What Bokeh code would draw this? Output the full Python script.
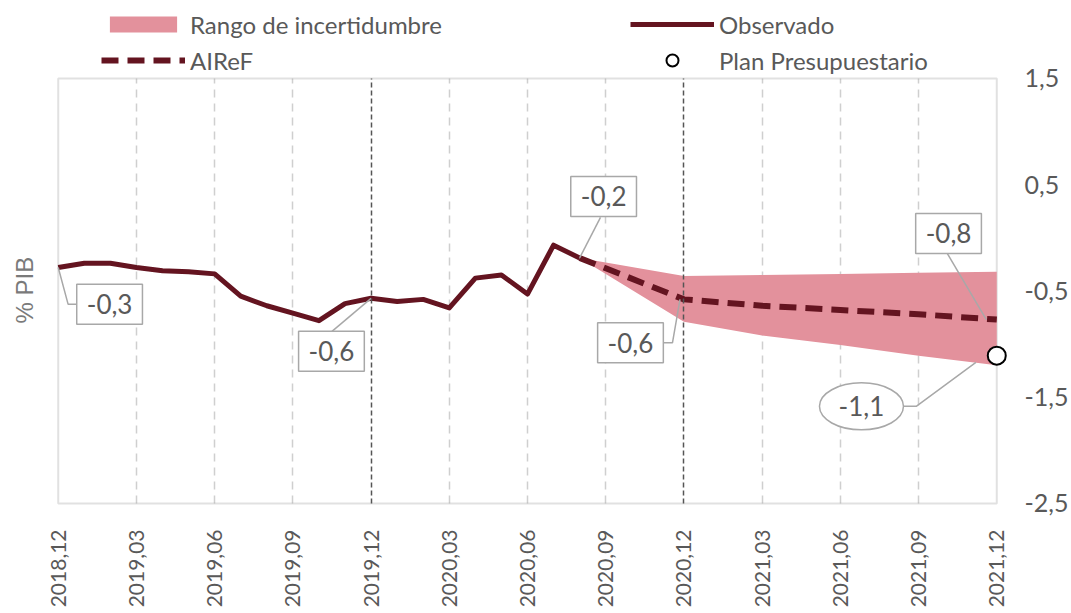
import numpy as np
from bokeh.plotting import figure
from bokeh.models import FixedTicker, Grid, Legend, LegendItem, Label, BoxAnnotation, Title
from bokeh.embed import file_html
from bokeh.resources import INLINE

# ---------------- data ----------------
tick_pos = [0, 3, 6, 9, 12, 15, 18, 21, 24, 27, 30, 33, 36]
tick_labels = ["2018,12", "2019,03", "2019,06", "2019,09", "2019,12", "2020,03",
               "2020,06", "2020,09", "2020,12", "2021,03", "2021,06", "2021,09", "2021,12"]

obs_x = list(range(21))  # 2018.12 .. 2020.08 monthly
obs_y = [-0.28, -0.24, -0.24, -0.28, -0.31, -0.32, -0.34, -0.55, -0.64, -0.71, -0.78,
         -0.62, -0.57, -0.60, -0.58, -0.66, -0.38, -0.35, -0.53, -0.07, -0.19]

fc_x = [20, 24, 27, 30, 33, 36]
fc_y = [-0.19, -0.58, -0.64, -0.68, -0.72, -0.77]

band_x = [20, 24, 27, 30, 33, 36]
band_hi = [-0.19, -0.36, -0.35, -0.34, -0.33, -0.32]
band_lo = [-0.19, -0.79, -0.92, -1.01, -1.11, -1.20]

plan_x = [36]
plan_y = [-1.11]

y_ticks = [1.5, 0.5, -0.5, -1.5, -2.5]
y_tick_labels = ["1,5", "0,5", "-0,5", "-1,5", "-2,5"]

# ---------------- styles ----------------
FONT = "Lato"
TXT = "#595959"
MAROON = "#641420"
PINK = "#e3919c"
LEAD = "#a8a8a8"
FRAME = "#9a9a9a"

Y0, Y1 = -2.5, 1.5          # plotted value box
PADX = 0.45                 # keeps the end marker unclipped
Y_LO = Y0 - 0.02
Y_HI = 2.233                # frame reaches the top so the legend sits inside it

p = figure(width=1071, height=613, x_range=(-PADX, 36 + PADX), y_range=(Y_LO, Y_HI),
           output_backend="svg", toolbar_location=None, y_axis_location="right",
           min_border_left=46, min_border_right=58, min_border_top=0, min_border_bottom=108,
           background_fill_color="white", border_fill_color="white",
           outline_line_color=None)

# x axis
xa = p.xaxis[0]
xa.ticker = FixedTicker(ticks=tick_pos)
xa.major_label_overrides = {t: l for t, l in zip(tick_pos, tick_labels)}
xa.major_label_orientation = np.pi / 2
xa.axis_line_color = None
xa.major_tick_line_color = None
xa.minor_tick_line_color = None
xa.major_label_standoff = 18
xa.major_label_text_font = FONT
xa.major_label_text_font_size = "21px"
xa.major_label_text_color = TXT

# right y axis
ya = p.yaxis[0]
ya.ticker = FixedTicker(ticks=y_ticks)
ya.major_label_overrides = {t: l for t, l in zip(y_ticks, y_tick_labels)}
ya.axis_line_color = None
ya.major_tick_line_color = None
ya.minor_tick_line_color = None
ya.major_label_standoff = 10
ya.major_label_text_font = FONT
ya.major_label_text_font_size = "25px"
ya.major_label_text_color = TXT

# y title on the left, centred on the value box
p.add_layout(Title(text="% PIB", align="left", offset=182, standoff=17,
                   text_font="Liberation Sans", text_font_size="24px",
                   text_font_style="normal", text_color="#7a7a7a"), "left")

# grids
light_ticks = [t for t in tick_pos if t not in (0, 12, 24, 36)]
dark_ticks = [12, 24]
p.ygrid.grid_line_color = None
p.xgrid.ticker = FixedTicker(ticks=light_ticks)
p.xgrid.grid_line_color = "#cfcfcf"
p.xgrid.grid_line_width = 1.5
p.xgrid.grid_line_dash = "8 6"
dark = Grid(dimension=0, ticker=FixedTicker(ticks=dark_ticks), grid_line_color="#555555",
            grid_line_width=1.5, grid_line_dash="5 3", level="glyph")
p.add_layout(dark)
try:
    p.xgrid.cross_bounds = (Y0, Y1)
    dark.cross_bounds = (Y0, Y1)
except Exception:
    p.xgrid.grid_line_color = None
    dark.grid_line_color = None
    p.segment(x0=light_ticks, x1=light_ticks, y0=[Y0] * len(light_ticks), y1=[Y1] * len(light_ticks),
              line_color="#cfcfcf", line_width=1.5, line_dash="8 6", level="underlay")
    p.segment(x0=dark_ticks, x1=dark_ticks, y0=[Y0] * 2, y1=[Y1] * 2,
              line_color="#555555", line_width=1.5, line_dash="5 3")

# plot box
p.add_layout(BoxAnnotation(left=0, right=36, bottom=Y0, top=Y1, fill_alpha=0,
                           line_color=FRAME, line_width=2, level="underlay"))

# data marks
band = p.varea(x=band_x, y1=band_lo, y2=band_hi, fill_color=PINK, fill_alpha=1)
obs = p.line(obs_x, obs_y, line_color=MAROON, line_width=5, line_join="round")
fc = p.line(fc_x, fc_y, line_color=MAROON, line_width=6, line_dash="17 9")

# leader lines for annotations
lead_xs = [[obs_x[0], 0.38, 0.80],
           [obs_x[12], 10.5],
           [obs_x[20], 20.8],
           [fc_x[1] - 0.15, 23.56, 23.1],
           [35.6, 34.1],
           [35.2, 32.91, 32.42]]
lead_ys = [[obs_y[0], -0.627, -0.627],
           [obs_y[12], -0.881],
           [obs_y[20], 0.192],
           [fc_y[1], -0.989, -0.989],
           [fc_y[-1], -0.147],
           [-1.173, -1.587, -1.587]]
p.multi_line(lead_xs, lead_ys, line_color=LEAD, line_width=1.5)

p.ellipse(x=[30.81], y=[-1.587], width=84, height=47, width_units="screen",
          height_units="screen", fill_color="white", line_color=LEAD, line_width=1.5)

plan = p.scatter(plan_x, plan_y, marker="circle", size=18, fill_color="white",
                 line_color="black", line_width=2)

# annotation labels
ann_text = ["-0,3", "-0,6", "-0,2", "-0,6", "-0,8"]
ann_x = [1.97, 10.48, 20.92, 21.95, 34.15]
ann_y = [-0.627, -1.069, 0.389, -0.989, 0.041]
for t, x, y in zip(ann_text, ann_x, ann_y):
    p.add_layout(Label(x=x, y=y, text=t, text_align="center", text_baseline="middle",
                       text_font=FONT, text_font_size="26px", text_color=TXT,
                       background_fill_color="white", border_line_color=LEAD,
                       border_line_width=1.5, padding=10))
p.add_layout(Label(x=30.81, y=-1.587, text="-1,1", text_align="center", text_baseline="middle",
                   text_font=FONT, text_font_size="26px", text_color=TXT))

# legends: two columns placed above the plotted box
common = dict(orientation="vertical", glyph_width=84, label_height=30,
              spacing=6, padding=0, margin=0, border_line_color=None,
              background_fill_alpha=0, label_text_font=FONT, label_text_font_size="24px",
              label_text_color=TXT, label_standoff=5)
legA = Legend(items=[LegendItem(label="Rango de incertidumbre", renderers=[band]),
                     LegendItem(label="AIReF", renderers=[fc])],
              location=(55, 430), glyph_height=20, **common)
legB = Legend(items=[LegendItem(label="Observado", renderers=[obs]),
                     LegendItem(label="Plan Presupuestario", renderers=[plan])],
              location=(584, 430), glyph_height=30, **common)
p.add_layout(legA)
p.add_layout(legB)

open("out.html", "w").write(file_html(p, INLINE))
